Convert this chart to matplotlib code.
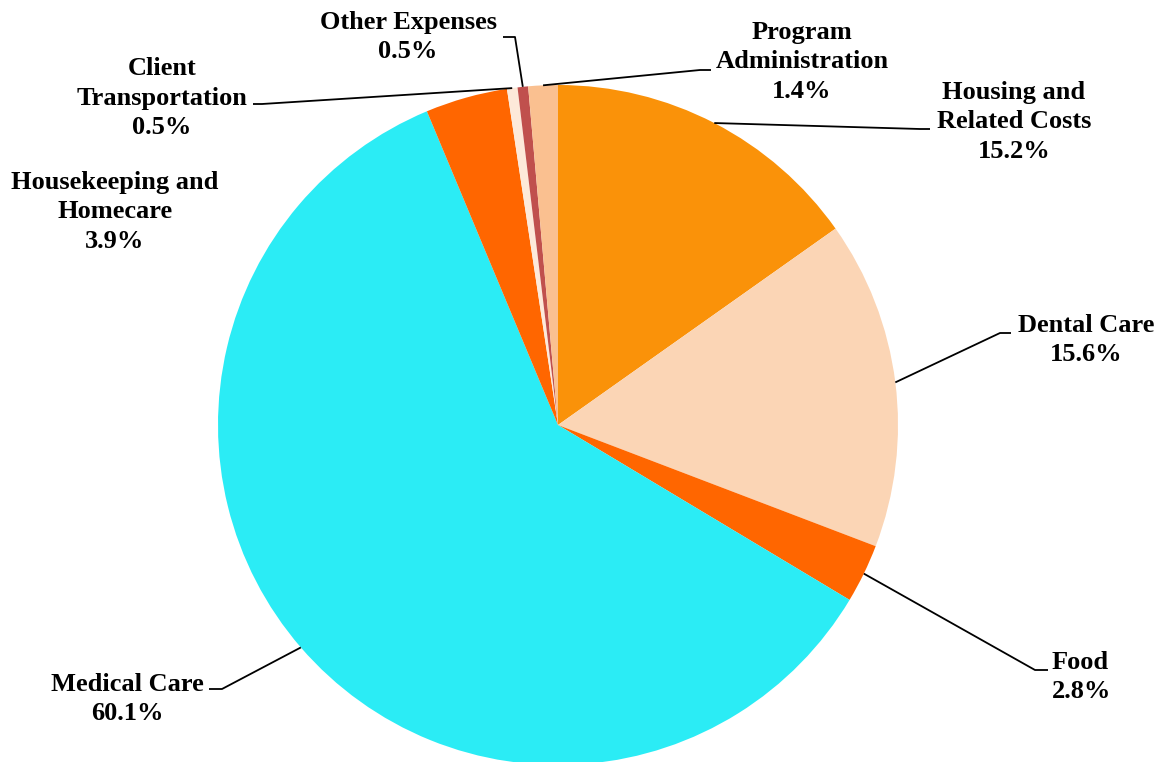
import matplotlib
matplotlib.use('Agg')
import matplotlib.pyplot as plt
import numpy as np

# data
categories = ['Housing and\nRelated Costs', 'Dental Care', 'Food', 'Medical Care',
              'Housekeeping and\nHomecare', 'Client\nTransportation',
              'Other Expenses', 'Program\nAdministration']
shares = [15.2, 15.6, 2.8, 60.1, 3.9, 0.5, 0.5, 1.4]
colors = ['#FA9209', '#FBD5B5', '#FF6600', '#2BECF5',
          '#FF6600', '#FDE9D9', '#C0504D', '#FAC090']

W, H = 1162, 762
plt.rcParams['font.family'] = ['Liberation Serif', 'DejaVu Serif']

fig = plt.figure(figsize=(W / 100, H / 100), dpi=100)
ax = fig.add_axes([0, 0, 1, 1])

cx, cy, r = 558, H - 425, 340
wedges, _ = ax.pie(shares, colors=colors, startangle=90, counterclock=False,
                   center=(cx, cy), radius=r, frame=True,
                   wedgeprops=dict(linewidth=0))

# label text position (px, from top), alignment, leader path (px from top)
labels = [
    ((1014, 122), 'center', [(930, 129), (920, 129)]),
    ((1086, 340), 'center', [(1011, 333), (1000, 333)]),
    ((1052, 677), 'left', [(1048, 670), (1035, 670)]),
    ((127, 699), 'center', [(209, 689), (222, 689)]),
    ((115, 212), 'center', None),
    ((162, 98), 'center', [(253, 104), (262, 104)]),
    ((408, 37), 'center', [(503, 37), (515, 37)]),
    ((802, 62), 'center', [(711, 70), (700, 70)]),
]

cum = np.cumsum([0] + shares)
for i, w in enumerate(wedges):
    (tx, ty), ha, path = labels[i]
    txt = categories[i] + '\n' + '%.1f%%' % shares[i]
    ax.text(tx, H - ty, txt, ha=ha, va='center', fontsize=19,
            fontweight='bold', linespacing=1.37, color='black')
    if path is None:
        continue
    mid = (cum[i] + cum[i + 1]) / 2 / 100 * 2 * np.pi
    ex = cx + r * np.sin(mid)
    ey = cy + r * np.cos(mid)
    xs = [p[0] for p in path] + [ex]
    ys = [H - p[1] for p in path] + [ey]
    ax.plot(xs, ys, color='black', lw=1.3, solid_capstyle='butt')

ax.set_xlim(0, W)
ax.set_ylim(0, H)
ax.set_aspect('equal')
ax.axis('off')

fig.savefig('out.png', dpi=100)
